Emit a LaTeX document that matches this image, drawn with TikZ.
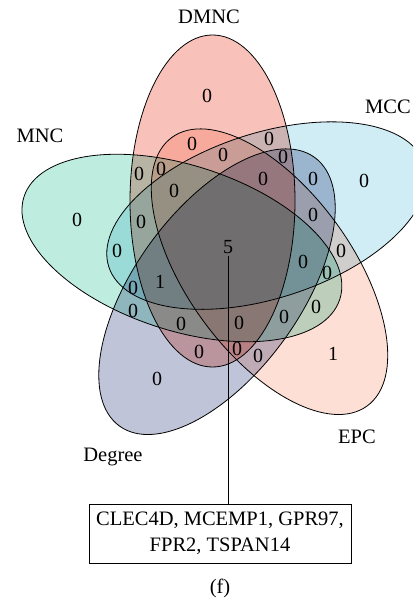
\documentclass[tikz,border=0pt]{standalone}
\usepackage{fontspec}
\setmainfont{Liberation Serif}
\definecolor{cDMNC}{RGB}{248,194,186}
\definecolor{cMCC}{RGB}{208,236,245}
\definecolor{cEPC}{RGB}{254,223,214}
\definecolor{cDeg}{RGB}{192,196,216}
\definecolor{cMNC}{RGB}{190,237,224}
\begin{document}
\begin{tikzpicture}[x=1pt,y=-1pt,
  lbl/.style={font=\fontsize{20.5}{24}\selectfont, inner sep=0pt},
  cnt/.style={font=\fontsize{20}{24}\selectfont, inner sep=0pt},
  outline/.style={draw=black, line width=0.8pt},
  genebox/.style={draw=black, line width=0.8pt, minimum width=262pt, minimum height=59pt, align=center, font=\fontsize{20.5}{26}\selectfont, inner sep=0pt}]
\useasboundingbox (0,0) rectangle (413,601);
\begin{scope}
\clip (0,0) rectangle (413,601);
\begin{scope}[blend mode=multiply]
\fill[cDMNC] (212.5,201) ellipse [x radius=82.5, y radius=166];
\fill[cMCC, rotate around={-72:(266.7,215.6)}] (266.7,215.6) ellipse [x radius=82.5, y radius=166];
\fill[cEPC, rotate around={-144:(269.5,271.7)}] (269.5,271.7) ellipse [x radius=82.5, y radius=166];
\fill[cDeg, rotate around={-216:(217.0,291.7)}] (217.0,291.7) ellipse [x radius=82.5, y radius=166];
\fill[cMNC, rotate around={-288:(181.9,248)}] (181.9,248) ellipse [x radius=82.5, y radius=166];
\end{scope}
\draw[outline] (212.5,201) ellipse [x radius=82.5, y radius=166];
\draw[outline, rotate around={-72:(266.7,215.6)}] (266.7,215.6) ellipse [x radius=82.5, y radius=166];
\draw[outline, rotate around={-144:(269.5,271.7)}] (269.5,271.7) ellipse [x radius=82.5, y radius=166];
\draw[outline, rotate around={-216:(217.0,291.7)}] (217.0,291.7) ellipse [x radius=82.5, y radius=166];
\draw[outline, rotate around={-288:(181.9,248)}] (181.9,248) ellipse [x radius=82.5, y radius=166];
\end{scope}
% set labels
\node[lbl] (lDMNC) at (209,17) {DMNC};
\node[lbl] (lMCC) at (388,107) {MCC};
\node[lbl] (lMNC) at (40,136) {MNC};
\node[lbl] (lDeg) at (113,457) {Degree};
\node[lbl] (lEPC) at (357,437) {EPC};
% counts
\node[cnt] (r1) at (207,96) {0};
\node[cnt] (r2) at (364,181) {0};
\node[cnt] (r3) at (77,220) {0};
\node[cnt] (r4) at (157,379) {0};
\node[cnt] (r5) at (333,354) {1};
\node[cnt] (r6) at (192,144) {0};
\node[cnt] (r7) at (269,139) {0};
\node[cnt] (r8) at (223,155) {0};
\node[cnt] (r9) at (283,157) {0};
\node[cnt] (r10) at (139,174) {0};
\node[cnt] (r11) at (161,169) {0};
\node[cnt] (r12) at (174,191) {0};
\node[cnt] (r13) at (263,179) {0};
\node[cnt] (r14) at (313,179) {0};
\node[cnt] (r15) at (313,215) {0};
\node[cnt] (r16) at (141,222) {0};
\node[cnt] (r17) at (117,251) {0};
\node[cnt] (n5) at (228,247) {5};
\node[cnt] (r19) at (303,262) {0};
\node[cnt] (r20) at (341,251) {0};
\node[cnt] (r21) at (327,273) {0};
\node[cnt] (r22) at (160,282) {1};
\node[cnt] (r23) at (133,288) {0};
\node[cnt] (r24) at (133,311) {0};
\node[cnt] (r25) at (181,324) {0};
\node[cnt] (r26) at (239,323) {0};
\node[cnt] (r27) at (284,317) {0};
\node[cnt] (r28) at (316,307) {0};
\node[cnt] (r29) at (199,352) {0};
\node[cnt] (r30) at (237,349) {0};
\node[cnt] (r31) at (258,356) {0};
% gene box
\node[genebox] (box) at (220,533.5) {CLEC4D, MCEMP1, GPR97,\\FPR2, TSPAN14};
\draw[line width=0.8pt] ([yshift=-2pt]n5.south) -- (n5.south |- box.north);
\node[lbl] (cap) at (220,588) {(f)};
\end{tikzpicture}
\end{document}
